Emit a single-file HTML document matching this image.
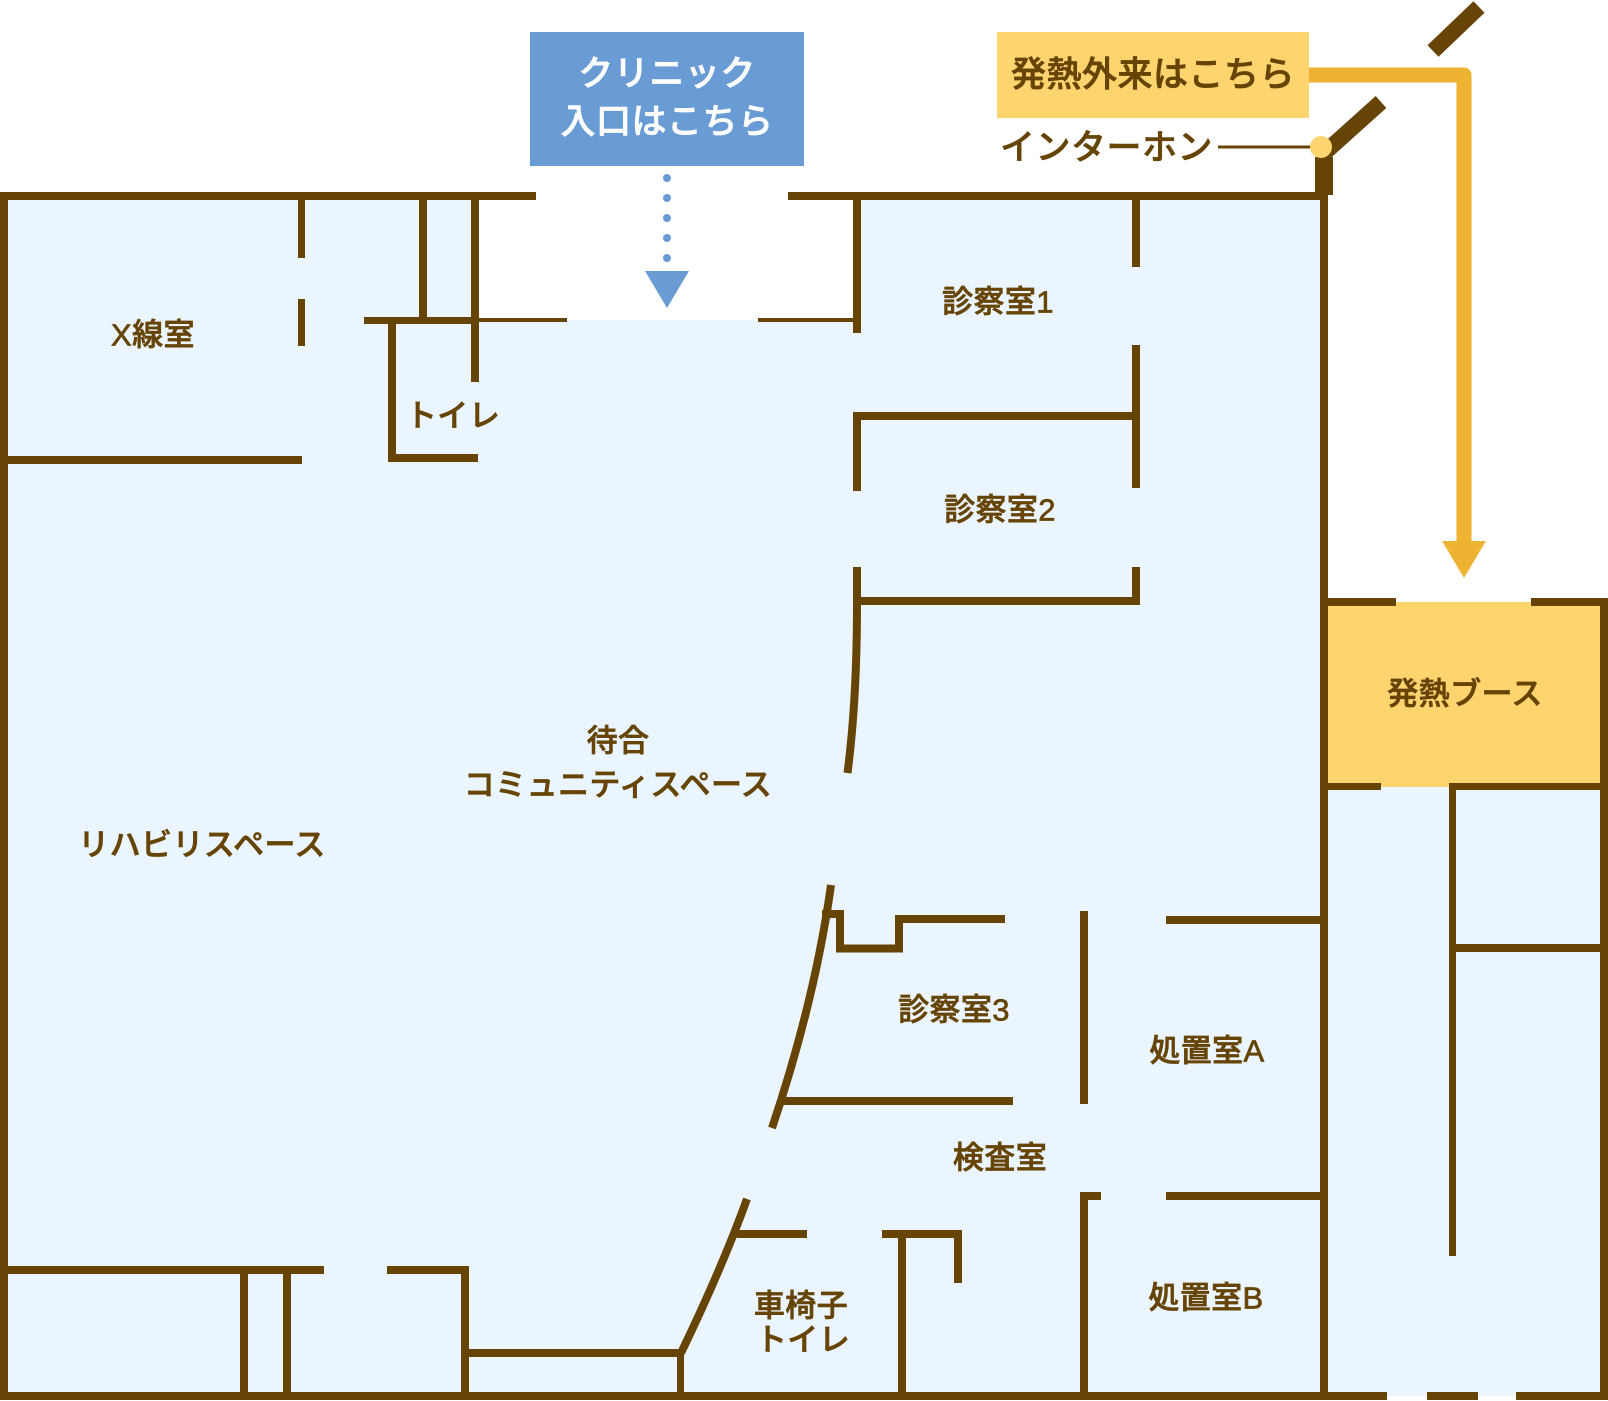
<!DOCTYPE html>
<html><head><meta charset="utf-8"><style>
html,body{margin:0;padding:0;background:#fff;}
svg{display:block;}
text{font-family:"Liberation Sans","Noto Sans CJK JP",sans-serif;font-weight:500;paint-order:stroke;}
</style></head><body>
<svg width="1608" height="1401" viewBox="0 0 1608 1401" xmlns="http://www.w3.org/2000/svg">
<rect width="1608" height="1401" fill="#fff"/>
<!-- fills -->
<rect x="0" y="192" width="1328" height="1208" fill="#EAF5FD"/>
<rect x="479" y="192" width="374" height="128" fill="#fff"/>
<rect x="1328" y="602" width="272" height="186" fill="#FED46F"/>
<rect x="1328" y="787" width="272" height="609" fill="#EAF5FD"/>

<g fill="#664406">
<!-- outer walls -->
<rect x="0" y="192" width="536" height="8"/>
<rect x="788" y="192" width="540" height="8"/>
<rect x="0" y="192" width="8" height="1208"/>
<rect x="0" y="1392" width="1387" height="8"/>
<rect x="1320" y="192" width="8" height="1208"/>
<rect x="1315" y="157" width="18" height="38"/>
<!-- top-left -->
<rect x="298" y="200" width="7" height="58"/>
<rect x="298" y="299" width="7" height="47"/>
<rect x="419" y="200" width="8" height="117"/>
<rect x="471" y="200" width="8" height="182"/>
<rect x="364" y="317" width="115" height="7"/>
<rect x="479" y="318" width="88" height="4"/>
<rect x="758" y="318" width="95" height="4"/>
<rect x="388" y="317" width="8" height="145"/>
<rect x="388" y="454" width="90" height="8"/>
<rect x="0" y="456" width="302" height="8"/>
<!-- exam rooms 1,2 -->
<rect x="853" y="192" width="8" height="141"/>
<rect x="1132" y="200" width="8" height="67"/>
<rect x="1132" y="345" width="8" height="143"/>
<rect x="1132" y="567" width="8" height="37"/>
<rect x="853" y="412" width="287" height="8"/>
<rect x="853" y="412" width="8" height="79"/>
<rect x="853" y="597" width="287" height="8"/>
<rect x="853" y="567" width="8" height="37"/>
<!-- exam 3 etc -->
<rect x="783" y="1097" width="230" height="8"/>
<rect x="1080" y="911" width="8" height="193"/>
<rect x="1166" y="916" width="154" height="8"/>
<rect x="1080" y="1192" width="21" height="8"/>
<rect x="1166" y="1192" width="154" height="8"/>
<rect x="1080" y="1192" width="8" height="208"/>
<!-- bottom-left -->
<rect x="0" y="1266" width="324" height="8"/>
<rect x="387" y="1266" width="82" height="8"/>
<rect x="240" y="1266" width="8" height="134"/>
<rect x="283" y="1266" width="8" height="134"/>
<rect x="461" y="1266" width="8" height="134"/>
<rect x="461" y="1349" width="220" height="8"/>
<rect x="677" y="1353" width="7" height="47"/>
<rect x="737" y="1230" width="70" height="8"/>
<rect x="882" y="1230" width="80" height="8"/>
<rect x="898" y="1230" width="8" height="170"/>
<rect x="954" y="1230" width="8" height="53"/>
<!-- right section -->
<rect x="1320" y="598" width="76" height="8"/>
<rect x="1531" y="598" width="77" height="8"/>
<rect x="1600" y="598" width="8" height="802"/>
<rect x="1320" y="783" width="61" height="7"/>
<rect x="1449" y="783" width="159" height="7"/>
<rect x="1449" y="783" width="7" height="473"/>
<rect x="1456" y="944" width="144" height="8"/>
<rect x="1427" y="1392" width="51" height="8"/>
<rect x="1516" y="1392" width="92" height="8"/>
</g>

<g fill="none" stroke="#664406" stroke-width="8">
<path d="M857 604 Q857 700 847.5 773"/>
<path d="M831 885 Q815 1000 772 1128"/>
<path d="M822 914 H840 V948.5 H899 V919 H1005"/>
<path d="M747 1199 Q722 1268 681 1353"/>
</g>

<!-- entrance marker -->
<rect x="530" y="32" width="274" height="134" fill="#699BD5"/>
<g fill="#699BD5">
<circle cx="667" cy="178" r="4"/>
<circle cx="667" cy="198" r="4"/>
<circle cx="667" cy="218" r="4"/>
<circle cx="667" cy="238" r="4"/>
<circle cx="667" cy="258" r="4"/>
<polygon points="645,271 689,271 667,308"/>
</g>
<g font-size="35" fill="#fff" stroke="#fff" stroke-width="0.7" text-anchor="middle" dominant-baseline="central" letter-spacing="0.5">
<text x="667" y="74">クリニック</text>
<text x="667" y="122">入口はこちら</text>
</g>

<!-- fever route -->
<rect x="997" y="32" width="312" height="86" fill="#FED46F"/>
<text x="1153" y="75" font-size="35" fill="#664406" stroke="#664406" stroke-width="0.7" letter-spacing="0.5" text-anchor="middle" dominant-baseline="central">発熱外来はこちら</text>
<path d="M1309 75 H1464 V545" fill="none" stroke="#EEB333" stroke-width="15" stroke-linejoin="round"/>
<polygon points="1442,541 1486,541 1464,578" fill="#EEB333"/>

<!-- doors + intercom -->
<line x1="1433" y1="51" x2="1479" y2="7" stroke="#664406" stroke-width="16"/>
<line x1="1381" y1="102" x2="1322" y2="155" stroke="#664406" stroke-width="16"/>
<line x1="1218" y1="147" x2="1312" y2="147" stroke="#664406" stroke-width="3"/>
<circle cx="1321" cy="147" r="11" fill="#FED46F"/>
<text x="1000" y="148" font-size="35" fill="#664406" stroke="#664406" stroke-width="0.5" letter-spacing="0.5" dominant-baseline="central">インターホン</text>

<!-- room labels -->
<g font-size="31" fill="#664406" stroke="#664406" stroke-width="0.7" letter-spacing="0.4" text-anchor="middle" dominant-baseline="central">
<text x="153" y="335">X線室</text>
<text x="453" y="416">トイレ</text>
<text x="998" y="302">診察室1</text>
<text x="1000" y="510">診察室2</text>
<text x="618" y="741">待合</text>
<text x="618" y="785">コミュニティスペース</text>
<text x="202" y="845">リハビリスペース</text>
<text x="1465" y="694">発熱ブース</text>
<text x="954" y="1010">診察室3</text>
<text x="1207" y="1051">処置室A</text>
<text x="1000" y="1158">検査室</text>
<text x="1206" y="1298">処置室B</text>
<text x="801" y="1306">車椅子</text>
<text x="803" y="1340">トイレ</text>
</g>
</svg>
</body></html>
